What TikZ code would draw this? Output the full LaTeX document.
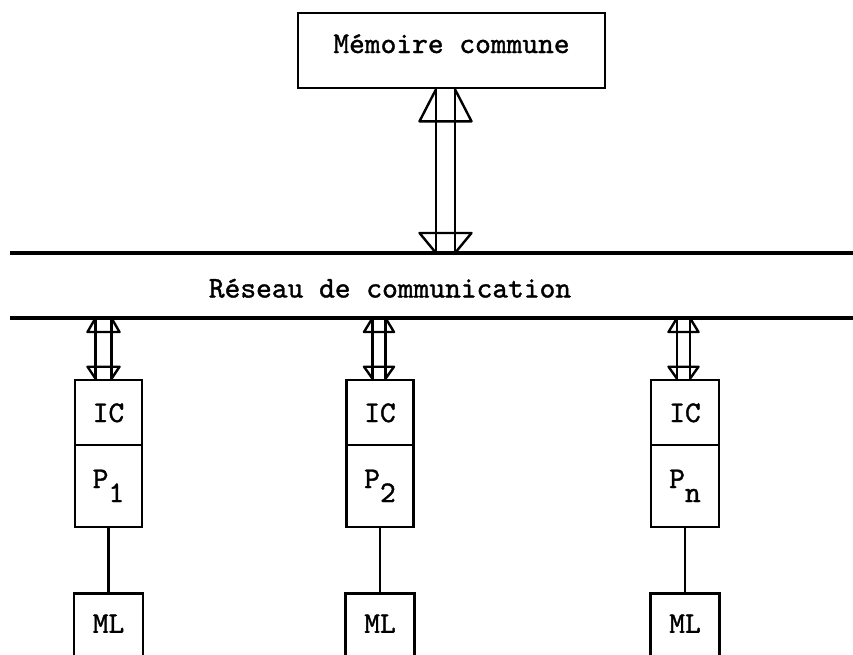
\documentclass[tikz,border=0pt]{standalone}
\usepackage{fontspec}
\usetikzlibrary{calc}
\newfontfamily\typewriter{lmmono10-regular.otf}[FakeBold=1.2]
% double hollow arrow: #1 top point, #2 bottom point, #3 half shaft width,
% #4 half head width, #5 top head length, #6 bottom head length
\newcommand\twowayarrow[6]{%
  \draw[link] ($(#1)+(-#3,0)$) -- ($(#2)+(-#3,0)$)
              ($(#1)+(#3,0)$) -- ($(#2)+(#3,0)$);
  \draw[link] ($(#1)+(-#3,0)$) -- ($(#1)+(-#4,#5)$) -- ($(#1)+(#4,#5)$) -- ($(#1)+(#3,0)$);
  \draw[link] ($(#2)+(-#3,0)$) -- ($(#2)+(-#4,-#6)$) -- ($(#2)+(#4,-#6)$) -- ($(#2)+(#3,0)$);
}
\tikzset{
  lbl/.style={font=\typewriter\fontsize{30}{36}\selectfont, text height=19pt, text depth=0pt, inner sep=0pt},
  box/.style={lbl, draw, line width=2.6pt, minimum width=67, minimum height=65},
  subbox/.style={box, text depth=15pt, text height=19pt},
  bus/.style={line width=3.4pt},
  link/.style={line width=2.4pt, line join=round},
  wire/.style={line width=2.4pt}
}
\begin{document}
\begin{tikzpicture}[x=1pt,y=-1pt]
  \useasboundingbox (0,0) rectangle (853,654);
  % shared memory
  \node[box, minimum width=307, minimum height=75, text depth=14pt] (mem) at (451.5,50.5) {Mémoire commune};
  % communication network
  \coordinate (busTL) at (10,253);
  \coordinate (busTR) at (853,253);
  \coordinate (busBL) at (10,318);
  \coordinate (busBR) at (853,318);
  \draw[bus] (busTL) -- (busTR);
  \draw[bus] (busBL) -- (busBR);
  \node[lbl] (net) at (390,288) {Réseau de communication};
  % processors
  \node[box] (ic1) at (108.5,412.5) {IC};
  \node[subbox, minimum height=82] (p1) at (108.5,486) {P\raisebox{-14pt}{1}};
  \node[subbox, anchor=north, minimum width=69, minimum height=75] (ml1) at (108.5,592) {ML};
  \node[box] (ic2) at (380,412.5) {IC};
  \node[subbox, minimum height=82] (p2) at (380,486) {P\raisebox{-14pt}{2}};
  \node[subbox, anchor=north, minimum width=69, minimum height=75] (ml2) at (380,592) {ML};
  \node[box, minimum width=68] (ic3) at (685,412.5) {IC};
  \node[subbox, minimum width=68, minimum height=82] (p3) at (685,486) {P\raisebox{-14pt}{n}};
  \node[subbox, anchor=north, minimum width=69, minimum height=75] (ml3) at (685,592) {ML};
  % local memory links
  \draw[wire] (p1) -- (ml1);
  \draw[wire] (p2) -- (ml2);
  \draw[wire] (p3) -- (ml3);
  % memory <-> network
  \coordinate (mt) at ($(mem.south)+(-6,0)$);
  \coordinate (mb) at (mt |- busTL);
  \twowayarrow{mt}{mb}{9.5}{26}{32}{20}
  % network <-> interfaces
  \coordinate (u1) at ($(ic1.north |- busBL)+(-5,0)$);
  \coordinate (d1) at ($(ic1.north)+(-5,0)$);
  \twowayarrow{u1}{d1}{8}{16}{14}{12}
  \coordinate (u2) at ($(ic2.north |- busBL)+(-1,0)$);
  \coordinate (d2) at ($(ic2.north)+(-1,0)$);
  \twowayarrow{u2}{d2}{6.5}{15}{14}{12}
  \coordinate (u3) at ($(ic3.north |- busBL)+(-1.5,0)$);
  \coordinate (d3) at ($(ic3.north)+(-1.5,0)$);
  \twowayarrow{u3}{d3}{6.5}{15}{14}{12}
\end{tikzpicture}
\end{document}
